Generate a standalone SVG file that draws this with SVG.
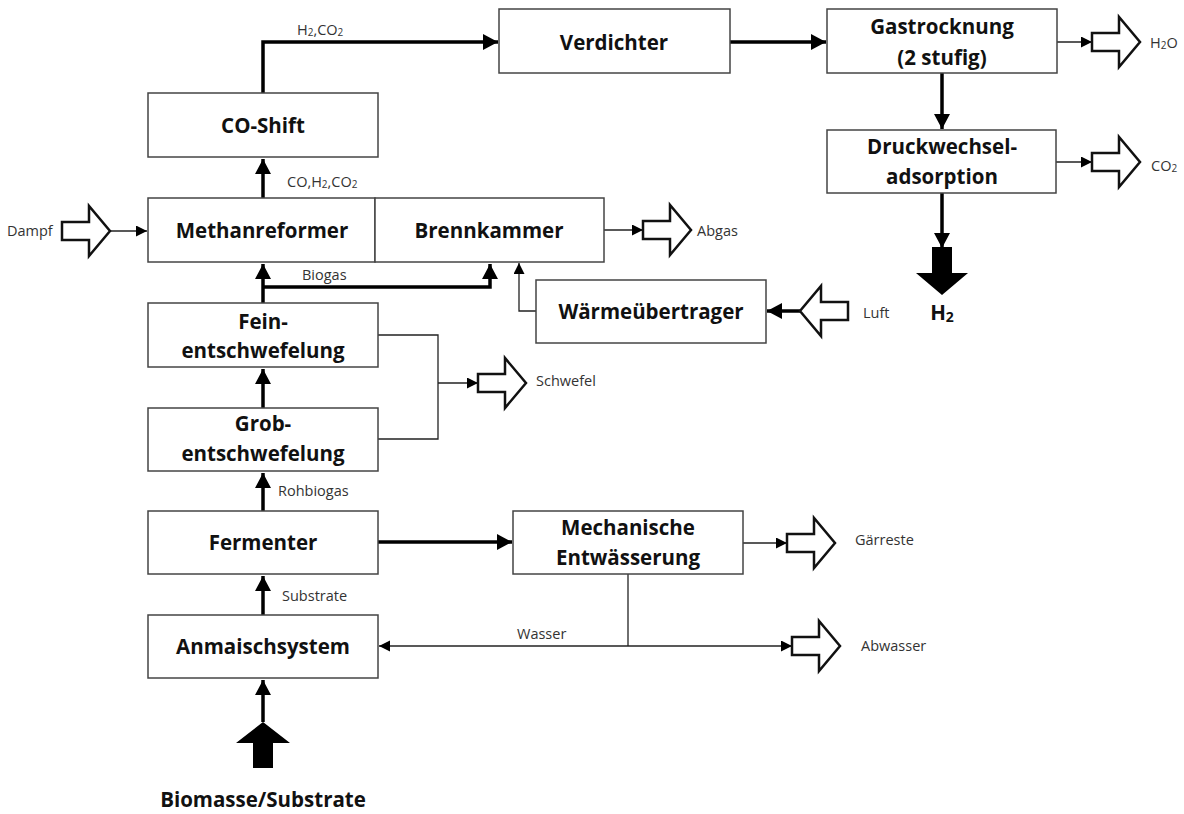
<svg xmlns="http://www.w3.org/2000/svg" xmlns:xlink="http://www.w3.org/1999/xlink" width="1184" height="814" viewBox="0 0 1184 814">
<style>
.box{fill:#fff;stroke:#444;stroke-width:1.5}
.t{font-family:"Open Sans","Liberation Sans",sans-serif;font-weight:bold;font-size:20.5px;fill:#111;text-anchor:middle;dominant-baseline:central}
.s{font-family:"Open Sans","Liberation Sans",sans-serif;font-size:14.5px;fill:#333;dominant-baseline:central}
.sub{font-size:10px}
.thick{fill:none;stroke:#000;stroke-width:3.5}
.thin{fill:none;stroke:#222;stroke-width:1.3}
.hollow{fill:#fff;stroke:#111;stroke-width:2.5;stroke-linejoin:miter}
.solid{fill:#000}
</style>
<defs>
<marker id="ak" markerUnits="userSpaceOnUse" markerWidth="16" markerHeight="18" refX="15" refY="8" orient="auto"><path d="M0,0 L15,8 L0,16 Z" fill="#000"/></marker>
<marker id="an" markerUnits="userSpaceOnUse" markerWidth="12" markerHeight="12" refX="11" refY="5.5" orient="auto"><path d="M0,0 L11,5.5 L0,11 Z" fill="#000"/></marker>
<path id="ho" d="M0,-9 H27 V-25 L48,0 L27,25 V9 H0 Z"/>
</defs>

<g id="connectors">
<path class="thick" d="M263,722 V680" marker-end="url(#ak)"/>
<path class="thick" d="M263,615 V576" marker-end="url(#ak)"/>
<path class="thick" d="M263,511 V473" marker-end="url(#ak)"/>
<path class="thick" d="M263,408 V369" marker-end="url(#ak)"/>
<path class="thick" d="M263,303 V264" marker-end="url(#ak)"/>
<path class="thick" d="M263,287 H490 V264" marker-end="url(#ak)"/>
<path class="thick" d="M263,198 V159" marker-end="url(#ak)"/>
<path class="thick" d="M263,93 V42 H498" marker-end="url(#ak)"/>
<path class="thick" d="M730,42 H826" marker-end="url(#ak)"/>
<path class="thick" d="M942,73 V129" marker-end="url(#ak)"/>
<path class="thick" d="M942,193 V248" marker-end="url(#ak)"/>
<path class="thick" d="M800,311 H767" marker-end="url(#ak)"/>
<path class="thick" d="M378,542 H512" marker-end="url(#ak)"/>
<path class="thin" d="M109,231 H147" marker-end="url(#an)"/>
<path class="thin" d="M604,230 H643" marker-end="url(#an)"/>
<path class="thin" d="M1057,42 H1092" marker-end="url(#an)"/>
<path class="thin" d="M1056,162 H1092" marker-end="url(#an)"/>
<path class="thin" d="M536,311 H519 V263" marker-end="url(#an)"/>
<path class="thin" d="M378,335 H438 V439 H378"/>
<path class="thin" d="M438,383 H478" marker-end="url(#an)"/>
<path class="thin" d="M743,543 H787" marker-end="url(#an)"/>
<path class="thin" d="M628,574 V646"/>
<path class="thin" d="M628,646 H379" marker-end="url(#an)"/>
<path class="thin" d="M628,646 H792" marker-end="url(#an)"/>
</g>

<g id="node-coshift"><rect class="box" x="148" y="93" width="230" height="64"/><text class="t" x="263" y="125">CO-Shift</text></g>
<g id="node-methanreformer"><rect class="box" x="148" y="198" width="227" height="64"/><text class="t" x="262" y="230">Methanreformer</text></g>
<g id="node-brennkammer"><rect class="box" x="375" y="198" width="229" height="64"/><text class="t" x="489" y="230">Brennkammer</text></g>
<g id="node-verdichter"><rect class="box" x="499" y="9" width="231" height="64"/><text class="t" x="614" y="42">Verdichter</text></g>
<g id="node-gastrocknung"><rect class="box" x="827" y="9" width="230" height="64"/><text class="t" x="942" y="26">Gastrocknung</text><text class="t" x="942" y="57">(2 stufig)</text></g>
<g id="node-druckwechsel"><rect class="box" x="827" y="130" width="229" height="63"/><text class="t" x="942" y="146">Druckwechsel-</text><text class="t" x="942" y="176">adsorption</text></g>
<g id="node-waermeuebertrager"><rect class="box" x="536" y="280" width="230" height="63"/><text class="t" x="651" y="311">Wärmeübertrager</text></g>
<g id="node-fein"><rect class="box" x="148" y="303" width="230" height="64"/><text class="t" x="263" y="321">Fein-</text><text class="t" x="263" y="350">entschwefelung</text></g>
<g id="node-grob"><rect class="box" x="148" y="408" width="230" height="63"/><text class="t" x="263" y="423">Grob-</text><text class="t" x="263" y="453">entschwefelung</text></g>
<g id="node-fermenter"><rect class="box" x="148" y="511" width="230" height="63"/><text class="t" x="263" y="542">Fermenter</text></g>
<g id="node-anmaisch"><rect class="box" x="148" y="615" width="230" height="63"/><text class="t" x="263" y="646">Anmaischsystem</text></g>
<g id="node-mechanische"><rect class="box" x="513" y="511" width="230" height="63"/><text class="t" x="628" y="527">Mechanische</text><text class="t" x="628" y="557">Entwässerung</text></g>

<g id="node-dampf"><use xlink:href="#ho" class="hollow" x="62" y="231"/><text class="s" x="7" y="230">Dampf</text></g>
<g id="node-abgas"><use xlink:href="#ho" class="hollow" x="643" y="230"/><text class="s" x="697" y="230">Abgas</text></g>
<g id="node-h2o"><use xlink:href="#ho" class="hollow" x="1092" y="42"/><text class="s" x="1150" y="42">H<tspan class="sub" dy="3">2</tspan><tspan dy="-3">O</tspan></text></g>
<g id="node-co2"><use xlink:href="#ho" class="hollow" x="1092" y="162"/><text class="s" x="1151" y="165">CO<tspan class="sub" dy="3">2</tspan></text></g>
<g id="node-schwefel"><use xlink:href="#ho" class="hollow" x="478" y="383"/><text class="s" x="536" y="380">Schwefel</text></g>
<g id="node-gaerreste"><use xlink:href="#ho" class="hollow" x="787" y="543"/><text class="s" x="855" y="539">Gärreste</text></g>
<g id="node-abwasser"><use xlink:href="#ho" class="hollow" x="792" y="646"/><text class="s" x="861" y="645">Abwasser</text></g>
<g id="node-luft"><use xlink:href="#ho" class="hollow" transform="translate(848,311) scale(-1,1)"/><text class="s" x="863" y="312">Luft</text></g>
<g id="node-h2"><path class="solid" d="M932,247 H952 V273 H968 L942,295 L916,273 H932 Z"/><text class="t" x="942" y="312">H<tspan font-size="14" dy="4">2</tspan></text></g>
<g id="node-biomasse"><path class="solid" d="M263,722 L290,743 H273 V768 H253 V743 H236 Z"/><text class="t" x="263" y="799">Biomasse/Substrate</text></g>

<g id="labels">
<text class="s" x="297" y="29">H<tspan class="sub" dy="3">2</tspan><tspan dy="-3">,CO</tspan><tspan class="sub" dy="3">2</tspan></text>
<text class="s" x="287" y="181">CO,H<tspan class="sub" dy="3">2</tspan><tspan dy="-3">,CO</tspan><tspan class="sub" dy="3">2</tspan></text>
<text class="s" x="302" y="274">Biogas</text>
<text class="s" x="278" y="490">Rohbiogas</text>
<text class="s" x="282" y="595">Substrate</text>
<text class="s" x="517" y="633">Wasser</text>
</g>
</svg>
